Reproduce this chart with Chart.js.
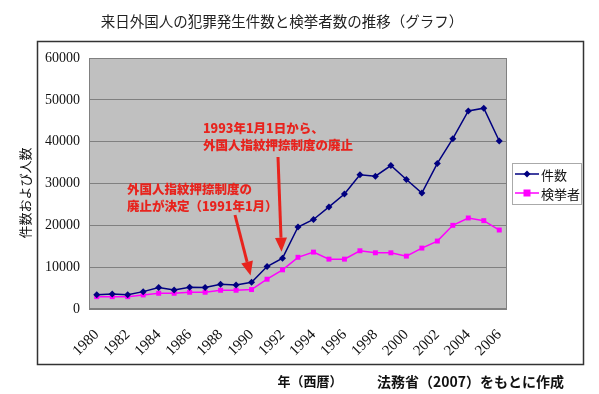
<!DOCTYPE html>
<html><head><meta charset="utf-8">
<script src="https://cdn.jsdelivr.net/npm/chart.js@4/dist/chart.umd.min.js"></script>
<style>html,body{margin:0;padding:0;background:#fff;}#wrap{width:599px;height:394px;}</style>
</head><body><div id="wrap"><canvas id="c" width="599" height="394"></canvas></div>
<script>
const years = ['1980','1981','1982','1983','1984','1985','1986','1987','1988','1989','1990','1991','1992','1993','1994','1995','1996','1997','1998','1999','2000','2001','2002','2003','2004','2005','2006'];
const cases = [3430,3600,3430,4150,5120,4560,5200,5120,5920,5760,6400,10160,12160,19600,21400,24400,27500,32100,31760,34300,30960,27700,34800,40700,47350,48000,40150];
const arrested = [2950,2950,2950,3360,3760,3760,4000,4000,4480,4480,4640,7120,9360,12360,13600,11920,11920,13920,13440,13440,12640,14560,16240,20000,21760,21120,18880];
const yTicks = [0,10000,20000,30000,40000,50000,60000];
const seriesNames = ['件数','検挙者'];
const titleText = '来日外国人の犯罪発生件数と検挙者数の推移（グラフ）';
const yTitle = '件数および人数';
const xTitle = '年（西暦）';
const sourceText = '法務省（2007）をもとに作成';
const note1 = ['1993年1月1日から、','外国人指紋押捺制度の廃止'];
const note2 = ['外国人指紋押捺制度の','廃止が決定（1991年1月）'];

const JP = '"Noto Sans CJK JP", sans-serif';
const SERIF = '"Liberation Serif", "DejaVu Serif", serif';

function arrow(ctx, x1, y1, x2, y2) {
  const ang = Math.atan2(y2 - y1, x2 - x1);
  const hl = 14, hw = 6;
  const bx = x2 - hl * Math.cos(ang), by = y2 - hl * Math.sin(ang);
  ctx.save();
  ctx.strokeStyle = '#e8231d'; ctx.fillStyle = '#e8231d'; ctx.lineWidth = 3;
  ctx.beginPath(); ctx.moveTo(x1, y1); ctx.lineTo(bx, by); ctx.stroke();
  ctx.beginPath();
  ctx.moveTo(x2, y2);
  ctx.lineTo(bx + hw * Math.sin(ang), by - hw * Math.cos(ang));
  ctx.lineTo(bx - hw * Math.sin(ang), by + hw * Math.cos(ang));
  ctx.closePath(); ctx.fill();
  ctx.restore();
}

const deco = {
  id: 'deco',
  beforeDraw(chart) {
    const ctx = chart.ctx, a = chart.chartArea;
    ctx.save();
    ctx.fillStyle = '#fff'; ctx.fillRect(0, 0, chart.width, chart.height);
    ctx.fillStyle = '#c0c0c0'; ctx.fillRect(a.left, a.top, a.right - a.left, a.bottom - a.top);
    ctx.restore();
  },
  afterDraw(chart) {
    const ctx = chart.ctx, a = chart.chartArea;
    const xs = chart.scales.x, ys = chart.scales.y;
    ctx.save();
    ctx.strokeStyle = '#808080'; ctx.lineWidth = 1;
    ctx.strokeRect(a.left + 0.5, a.top + 0.5, a.right - a.left - 1, a.bottom - a.top - 1);
    ctx.strokeStyle = '#333'; ctx.lineWidth = 1.5;
    ctx.strokeRect(37.5, 41.5, 546, 323);
    ctx.fillStyle = '#222'; ctx.font = '14.5px ' + JP; ctx.textAlign = 'center'; ctx.textBaseline = 'middle';
    ctx.fillText(titleText, 282, 21);
    ctx.save(); ctx.translate(25, 193); ctx.rotate(-Math.PI / 2);
    ctx.font = '13px ' + JP; ctx.fillStyle = '#111';
    ctx.fillText(yTitle, 0, 0); ctx.restore();
    ctx.font = 'bold 13px ' + JP; ctx.fillStyle = '#111';
    ctx.fillText(xTitle, 310, 381);
    ctx.font = 'bold 14px ' + JP; ctx.textAlign = 'left';
    ctx.fillText(sourceText, 377, 382);
    ctx.fillStyle = '#fff'; ctx.fillRect(512, 163, 69, 41);
    ctx.strokeStyle = '#aaa'; ctx.lineWidth = 1; ctx.strokeRect(512.5, 163.5, 69, 41);
    chart.data.datasets.forEach((ds, i) => {
      const y = 174 + i * 19;
      ctx.strokeStyle = ds.borderColor; ctx.lineWidth = 1.5;
      ctx.beginPath(); ctx.moveTo(515, y); ctx.lineTo(539, y); ctx.stroke();
      ctx.fillStyle = ds.backgroundColor;
      if (ds.pointStyle === 'rectRot') {
        ctx.beginPath(); ctx.moveTo(527, y - 3.5); ctx.lineTo(530.5, y); ctx.lineTo(527, y + 3.5); ctx.lineTo(523.5, y); ctx.closePath(); ctx.fill();
      } else { ctx.fillRect(523.5, y - 3.5, 7, 7); }
      ctx.fillStyle = '#111'; ctx.font = '13px ' + JP; ctx.textAlign = 'left'; ctx.textBaseline = 'middle';
      ctx.fillText(ds.label, 541, y + 1);
    });
    ctx.fillStyle = '#e8231d'; ctx.font = '900 12.5px ' + JP; ctx.textAlign = 'left'; ctx.textBaseline = 'middle';
    ctx.fillText(note1[0], 203, 128); ctx.fillText(note1[1], 203, 145);
    ctx.fillText(note2[0], 127, 189); ctx.fillText(note2[1], 127, 206);
    arrow(ctx, 278, 157, xs.getPixelForValue(12) - 1, ys.getPixelForValue(13700));
    arrow(ctx, 235, 215, xs.getPixelForValue(10) - 1, ys.getPixelForValue(8000));
    ctx.restore();
  }
};

new Chart(document.getElementById('c'), {
  type: 'line',
  data: {
    labels: years,
    datasets: [
      { label: seriesNames[0], data: cases, borderColor: '#000080', backgroundColor: '#000080', borderWidth: 1.5, pointStyle: 'rectRot', pointRadius: 3.5, pointBorderWidth: 0, tension: 0 },
      { label: seriesNames[1], data: arrested, borderColor: '#ff00ff', backgroundColor: '#ff00ff', borderWidth: 1.5, pointStyle: 'rect', pointRadius: 3.5, pointBorderWidth: 0, tension: 0 }
    ]
  },
  options: {
    responsive: false, animation: false, devicePixelRatio: 1,
    layout: { padding: { left: 0, top: 58, right: 92, bottom: 0 } },
    plugins: { legend: { display: false }, title: { display: false }, tooltip: { enabled: false } },
    scales: {
      x: {
        offset: true,
        grid: { display: false, drawTicks: false },
        border: { display: false },
        afterFit(s) { s.height = 85; },
        ticks: {
          autoSkip: false, maxRotation: 45, minRotation: 45, padding: 17,
          color: '#111', font: { family: SERIF, size: 15 },
          callback(v, i) { return i % 2 === 0 ? years[i] : ''; }
        }
      },
      y: {
        min: 0, max: 60000,
        afterFit(s) { s.width = 89; },
        afterBuildTicks(s) { s.ticks = yTicks.map(v => ({ value: v })); },
        grid: { color: '#808080', drawTicks: false },
        border: { display: false },
        ticks: { padding: 9, color: '#111', font: { family: SERIF, size: 14 }, callback(v) { return String(v); } }
      }
    }
  },
  plugins: [deco]
});
</script></body></html>
